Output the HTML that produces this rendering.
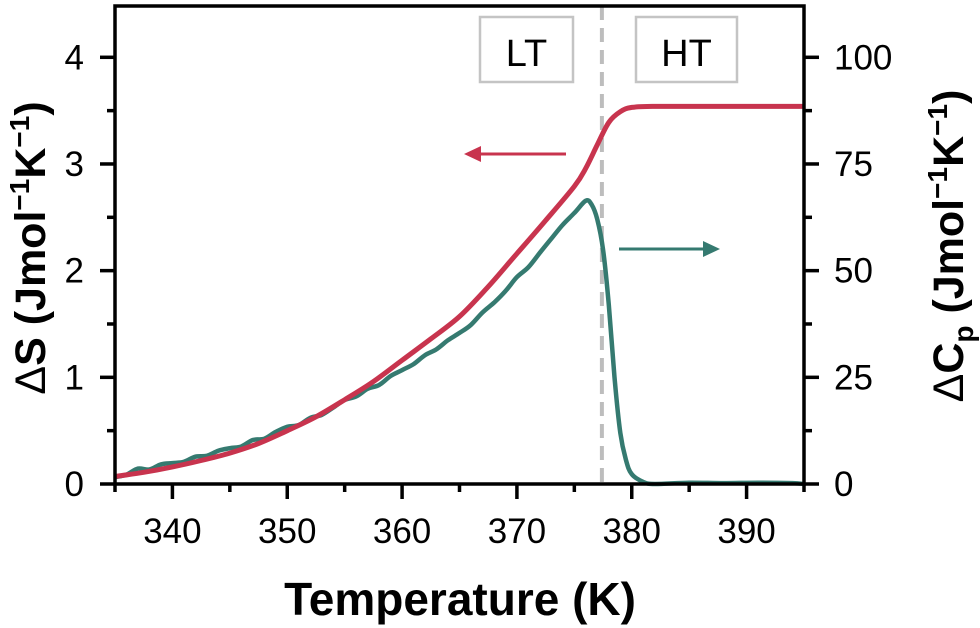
<!DOCTYPE html>
<html><head><meta charset="utf-8"><style>
body{margin:0;background:#fff}
svg{display:block;font-family:"Liberation Sans",Arial,sans-serif}
</style></head><body>
<svg id="chart" width="980" height="628" viewBox="0 0 980 628">
<g id="marks"></g>
<g id="axes"></g>
</svg>
<script>
const xTicks=[340,350,360,370,380,390];
const yLeftTicks=[0,1,2,3,4];
const yRightTicks=[0,25,50,75,100];
const dsT=[335,337.5,340,342.5,345,347.5,350,352.5,355,357.5,360,362.5,365,367.5,370,372.5,375,376,377,378,379,380,382,385,390,395];
const dsV=[0.07,0.11,0.16,0.22,0.29,0.38,0.5,0.63,0.79,0.96,1.16,1.36,1.57,1.85,2.16,2.47,2.79,2.96,3.18,3.39,3.49,3.53,3.54,3.54,3.54,3.54];
const cpT=[335,336,337,338,339,340,341,342,343,344,345,346,347,348,349,350,351,352,353,354,355,356,357,358,359,360,361,362,363,364,365,366,367,368,369,370,371,372,373,374,375,376,376.5,377,377.5,378,378.5,379,379.5,380,381,382,385,388,391,394,395];
const cpV=[1.6,2.2,3.6,3.4,4.6,4.9,5.2,6.4,6.6,7.8,8.4,8.8,10.3,10.6,12.2,13.4,13.8,15.5,16.2,17.9,19.7,20.5,22.3,23.2,25.3,26.7,28.1,30.2,31.6,33.7,35.4,37.3,40.2,42.5,45.2,48.5,50.8,54.2,57.5,60.8,63.5,66.4,65.5,62,55,42,25,12,5.6,2.3,0.5,0,0.3,0.2,0.3,0.2,0];
const X0=115,X1=804,Y0=484,YT=57.3;
const xs=t=>X0+(t-335)/(395-335)*(X1-X0);
const yl=v=>Y0-v/4*(Y0-YT);
const yr=v=>Y0-v/100*(Y0-YT);
const NS="http://www.w3.org/2000/svg";
const marks=document.getElementById('marks'),axes=document.getElementById('axes');
function mk(tag,attrs,parent){const e=document.createElementNS(NS,tag);for(const k in attrs)e.setAttribute(k,attrs[k]);parent.appendChild(e);return e;}
function smooth(pts){let d='M'+pts[0][0].toFixed(1)+','+pts[0][1].toFixed(1);
 for(let i=0;i<pts.length-1;i++){const p0=pts[Math.max(0,i-1)],p1=pts[i],p2=pts[i+1],p3=pts[Math.min(pts.length-1,i+2)];
 const c1=[p1[0]+(p2[0]-p0[0])/6,p1[1]+(p2[1]-p0[1])/6],c2=[p2[0]-(p3[0]-p1[0])/6,p2[1]-(p3[1]-p1[1])/6];
 d+='C'+c1.map(v=>v.toFixed(1))+' '+c2.map(v=>v.toFixed(1))+' '+p2.map(v=>v.toFixed(1));}return d;}
let dl=mk('line',{x1:xs(377.4),x2:xs(377.4),y1:6,y2:484,stroke:'#bdbdbd','stroke-width':4,'stroke-dasharray':'14,8'},marks);


[['LT',480,573,'lt-label'],['HT',636,737,'ht-label']].forEach(b=>{
 const g=mk('g',{},marks);
 
 
 mk('rect',{x:b[1],y:17,width:b[2]-b[1],height:65,fill:'#fff',stroke:'#c4c4c4','stroke-width':2.5},g);
 const t=mk('text',{x:(b[1]+b[2])/2,y:66,'font-size':38,'text-anchor':'middle',fill:'#000'},g);t.textContent=b[0];
});
let cp=mk('path',{d:smooth(cpT.map((t,i)=>[xs(t),yr(cpV[i])])),fill:'none',stroke:'#357a70','stroke-width':4.5,'stroke-linejoin':'round'},marks);


let ds=mk('path',{d:smooth(dsT.map((t,i)=>[xs(t),yl(dsV[i])])),fill:'none',stroke:'#c8344e','stroke-width':5,'stroke-linejoin':'round'},marks);


let a1=mk('g',{},marks);


mk('line',{x1:566,y1:154,x2:478,y2:154,stroke:'#c8344e','stroke-width':3},a1);
mk('polygon',{points:'464,154,481,146,481,162',fill:'#c8344e'},a1);
let a2=mk('g',{},marks);


mk('line',{x1:619,y1:249,x2:706,y2:249,stroke:'#357a70','stroke-width':3},a2);
mk('polygon',{points:'720,249,703,241,703,257',fill:'#357a70'},a2);
let fr=mk('rect',{x:X0,y:6,width:X1-X0,height:Y0-6,fill:'none',stroke:'#000','stroke-width':3.5},axes);


for(let t=335;t<=395;t+=5){const maj=xTicks.includes(t);mk('line',{x1:xs(t),x2:xs(t),y1:Y0,y2:Y0+(maj?15:8),stroke:'#000','stroke-width':3.5},axes);}
xTicks.forEach(t=>{const e=mk('text',{x:xs(t),y:543,'font-size':35,'text-anchor':'middle'},axes);e.textContent=t;

});
for(let v=0;v<=4;v+=0.5){const maj=v%1===0;mk('line',{x1:X0,x2:X0-(maj?15:8),y1:yl(v),y2:yl(v),stroke:'#000','stroke-width':3.5},axes);
 mk('line',{x1:X1,x2:X1+(maj?15:8),y1:yl(v),y2:yl(v),stroke:'#000','stroke-width':3.5},axes);}
yLeftTicks.forEach(v=>{const e=mk('text',{x:84,y:yl(v)+12,'font-size':35,'text-anchor':'end'},axes);e.textContent=v;

});
yRightTicks.forEach(v=>{const e=mk('text',{x:834,y:yr(v)+12,'font-size':35,'text-anchor':'start'},axes);e.textContent=v;

});
</script>
<svg style="position:absolute;left:0;top:0" width="980" height="628">
<text x="460" y="615" font-size="46" font-weight="bold" text-anchor="middle" font-family="Liberation Sans, sans-serif">Temperature (K)</text>
<text transform="translate(45,248) rotate(-90)" font-size="43" font-weight="bold" text-anchor="middle" font-family="Liberation Sans, sans-serif"><tspan font-weight="normal">Δ</tspan>S (Jmol<tspan font-size="28" dy="-16">−1</tspan><tspan dy="16">K</tspan><tspan font-size="28" dy="-16">−1</tspan><tspan dy="16">)</tspan></text>
<text transform="translate(963,246) rotate(-90)" font-size="43" font-weight="bold" text-anchor="middle" font-family="Liberation Sans, sans-serif"><tspan font-weight="normal">Δ</tspan>C<tspan font-size="28" dy="10">p</tspan><tspan dy="-10"> (Jmol</tspan><tspan font-size="28" dy="-16">−1</tspan><tspan dy="16">K</tspan><tspan font-size="28" dy="-16">−1</tspan><tspan dy="16">)</tspan></text>
</svg>
</body></html>
